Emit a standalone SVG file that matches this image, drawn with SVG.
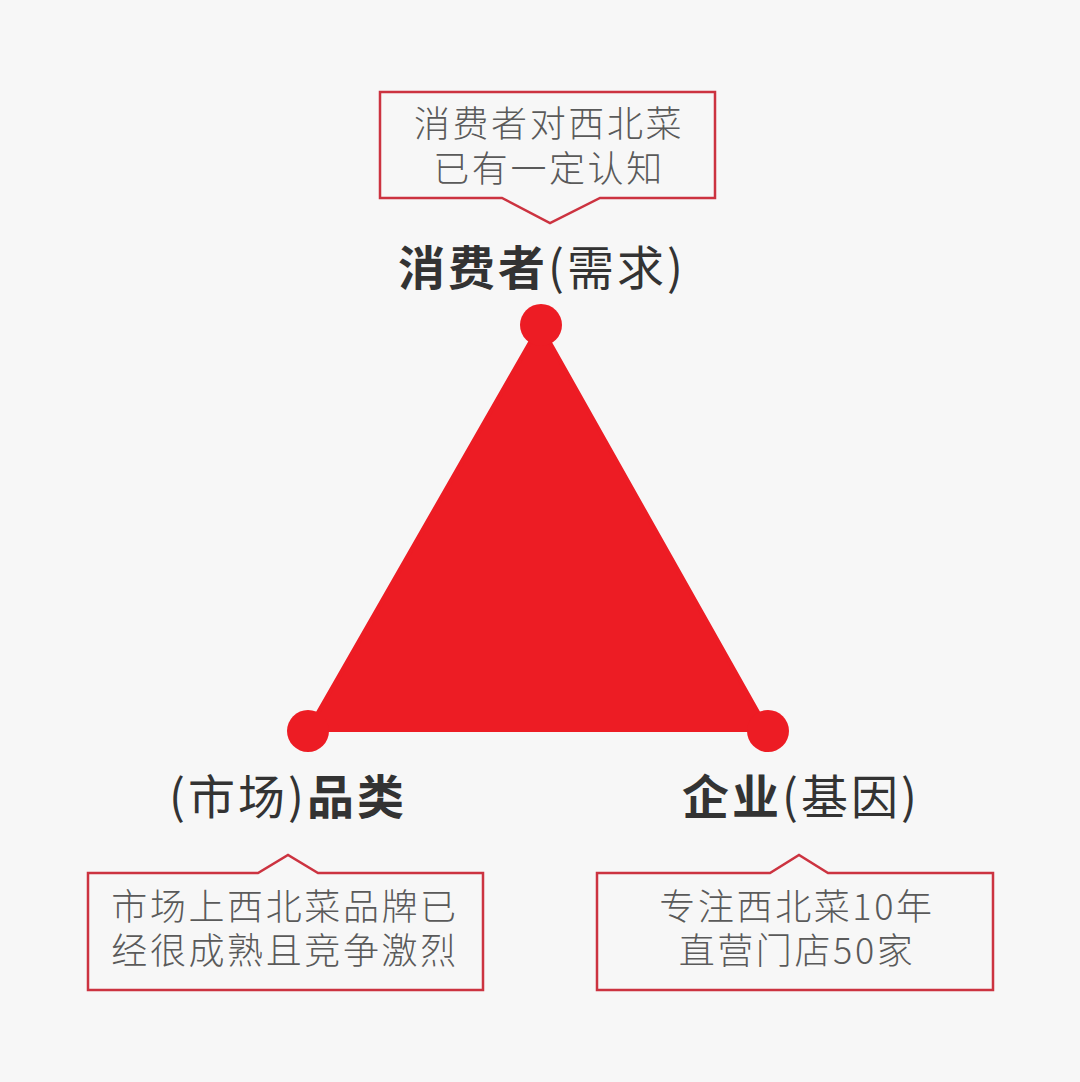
<svg xmlns="http://www.w3.org/2000/svg" width="1080" height="1082" viewBox="0 0 1080 1082">
<style>
.bg{fill:#f7f7f7}
.box{fill:#f7f7f7;stroke:#cc3340;stroke-width:2.5;stroke-linejoin:miter}
.note{font-family:"Noto Sans CJK SC","Noto Sans",sans-serif;font-weight:300;font-size:36px;letter-spacing:2.6px;fill:#5a5a5a;text-anchor:middle}
.lbl{font-family:"Noto Sans CJK SC","Noto Sans",sans-serif;font-size:47px;letter-spacing:3px;fill:#333;text-anchor:middle}
.b{font-weight:700}
.r{font-weight:400}
.red{fill:#ed1c24}
</style>
<rect class="bg" x="0" y="0" width="1080" height="1082"/>
<g id="triangle">
<polygon class="red" points="540,325 308,730 768,730" stroke="#ed1c24" stroke-width="4" stroke-linejoin="round"/>
</g>
<g id="node-top">
<circle class="red" cx="541" cy="325" r="21"/>
<text class="lbl" x="542" y="285"><tspan class="b">消费者</tspan><tspan class="r">(需求)</tspan></text>
</g>
<g id="node-left">
<circle class="red" cx="308" cy="731" r="21"/>
<text class="lbl" x="288" y="814" letter-spacing="5"><tspan class="r">(市场)</tspan><tspan class="b">品类</tspan></text>
</g>
<g id="node-right">
<circle class="red" cx="768" cy="731" r="21"/>
<text class="lbl" x="801" y="814" letter-spacing="5"><tspan class="b">企业</tspan><tspan class="r">(基因)</tspan></text>
</g>
<g id="callout-top">
<path class="box" d="M380,92 H715 V198 H600 L550,223 L502,198 H380 Z"/>
<text class="note" x="549" y="137">消费者对西北菜</text>
<text class="note" x="549" y="182">已有一定认知</text>
</g>
<g id="callout-left">
<path class="box" d="M88,873 H258 L288,855 L318,873 H483 V990 H88 Z"/>
<text class="note" x="285" y="920">市场上西北菜品牌已</text>
<text class="note" x="285" y="964">经很成熟且竞争激烈</text>
</g>
<g id="callout-right">
<path class="box" d="M597,873 H770 L799,855 L828,873 H993 V990 H597 Z"/>
<text class="note" x="797" y="920">专注西北菜10年</text>
<text class="note" x="797" y="964">直营门店50家</text>
</g>
<g id="connectors"></g>
</svg>
